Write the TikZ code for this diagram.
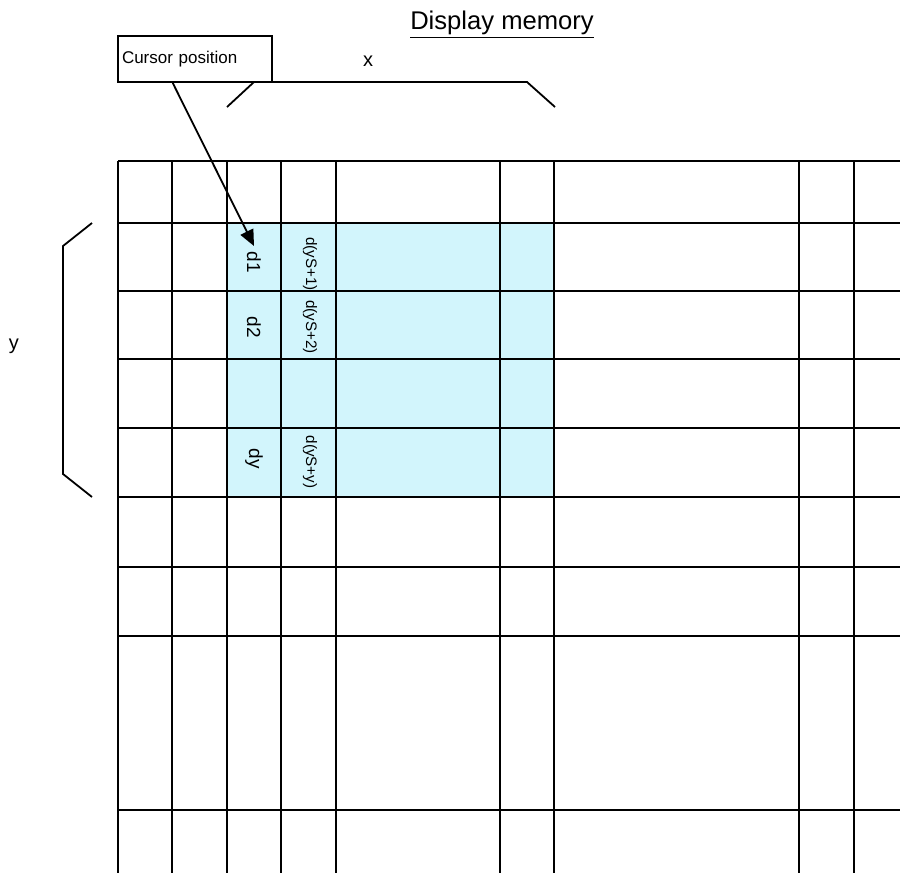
\documentclass[tikz,border=0pt]{standalone}
\usepackage{fontspec}
\setmainfont{Liberation Sans}
\usepackage{tikz}
\usepackage{xcolor}
\usetikzlibrary{arrows.meta}

\definecolor{memfill}{RGB}{210,245,252}

\begin{document}
\begin{tikzpicture}[x=0.5pt, y=-0.5pt, line width=0.9pt,
    >={Triangle[length=8pt, width=7pt]},
    labelbox/.style={draw, text width=73pt, inner xsep=2pt, inner ysep=0pt,
        minimum height=23pt, align=left, font=\fontsize{8.5}{10}\selectfont},
    celltext/.style={rotate=-90, inner sep=1pt, font=\fontsize{9.5}{11}\selectfont},
    celltiny/.style={rotate=-90, inner sep=1pt, font=\fontsize{7.6}{9}\selectfont}]
    \useasboundingbox (0,0) rectangle (900,873);
    % Selected block of display memory
    \fill[memfill] (227,223) rectangle (554,497);
%
    % Memory grid, rows
    \draw (118,161) -- (900,161)  (118,223) -- (900,223)
          (118,291) -- (900,291)  (118,359) -- (900,359)
          (118,428) -- (900,428)  (118,497) -- (900,497)
          (118,567) -- (900,567)  (118,636) -- (900,636)
          (118,810) -- (900,810);
    % Memory grid, columns
    \draw (118,161) -- (118,873)  (172,161) -- (172,873)
          (227,161) -- (227,873)  (281,161) -- (281,873)
          (336,161) -- (336,873)  (500,161) -- (500,873)
          (554,161) -- (554,873)  (799,161) -- (799,873)
          (854,161) -- (854,873);
%
    % Cell contents
    \node[celltext] (d1) at (254,262) {d1};
    \node[celltext] (d2) at (254,327) {d2};
    \node[celltext] (dy) at (254,459) {dy};
    \node[celltiny] (s1) at (310,264) {d(yS+1)};
    \node[celltiny] (s2) at (310,327) {d(yS+2)};
    \node[celltiny] (sy) at (310,462) {d(yS+y)};
%
    % Title and cursor label
    \node[anchor=base, font=\fontsize{12.8}{15}\selectfont] (title) at (502,29.3) {\underline{Display memory}};
    \node[labelbox] (cursor) at (195,59) {Cursor position};
    \coordinate (tip) at (254,246);
    \draw[->] (cursor.227.6) -- (tip);
%
    % Width bracket x
    \draw (227,107) -- (254,82) -- (527,82) -- (555,107);
    \node[font=\fontsize{10}{12}\selectfont] (xlab) at (368,61) {x};
    % Height bracket y
    \draw (92,223) -- (63,246) -- (63,474) -- (92,497);
    \node[font=\fontsize{10}{12}\selectfont] (ylab) at (14,346) {y};
\end{tikzpicture}
\end{document}
